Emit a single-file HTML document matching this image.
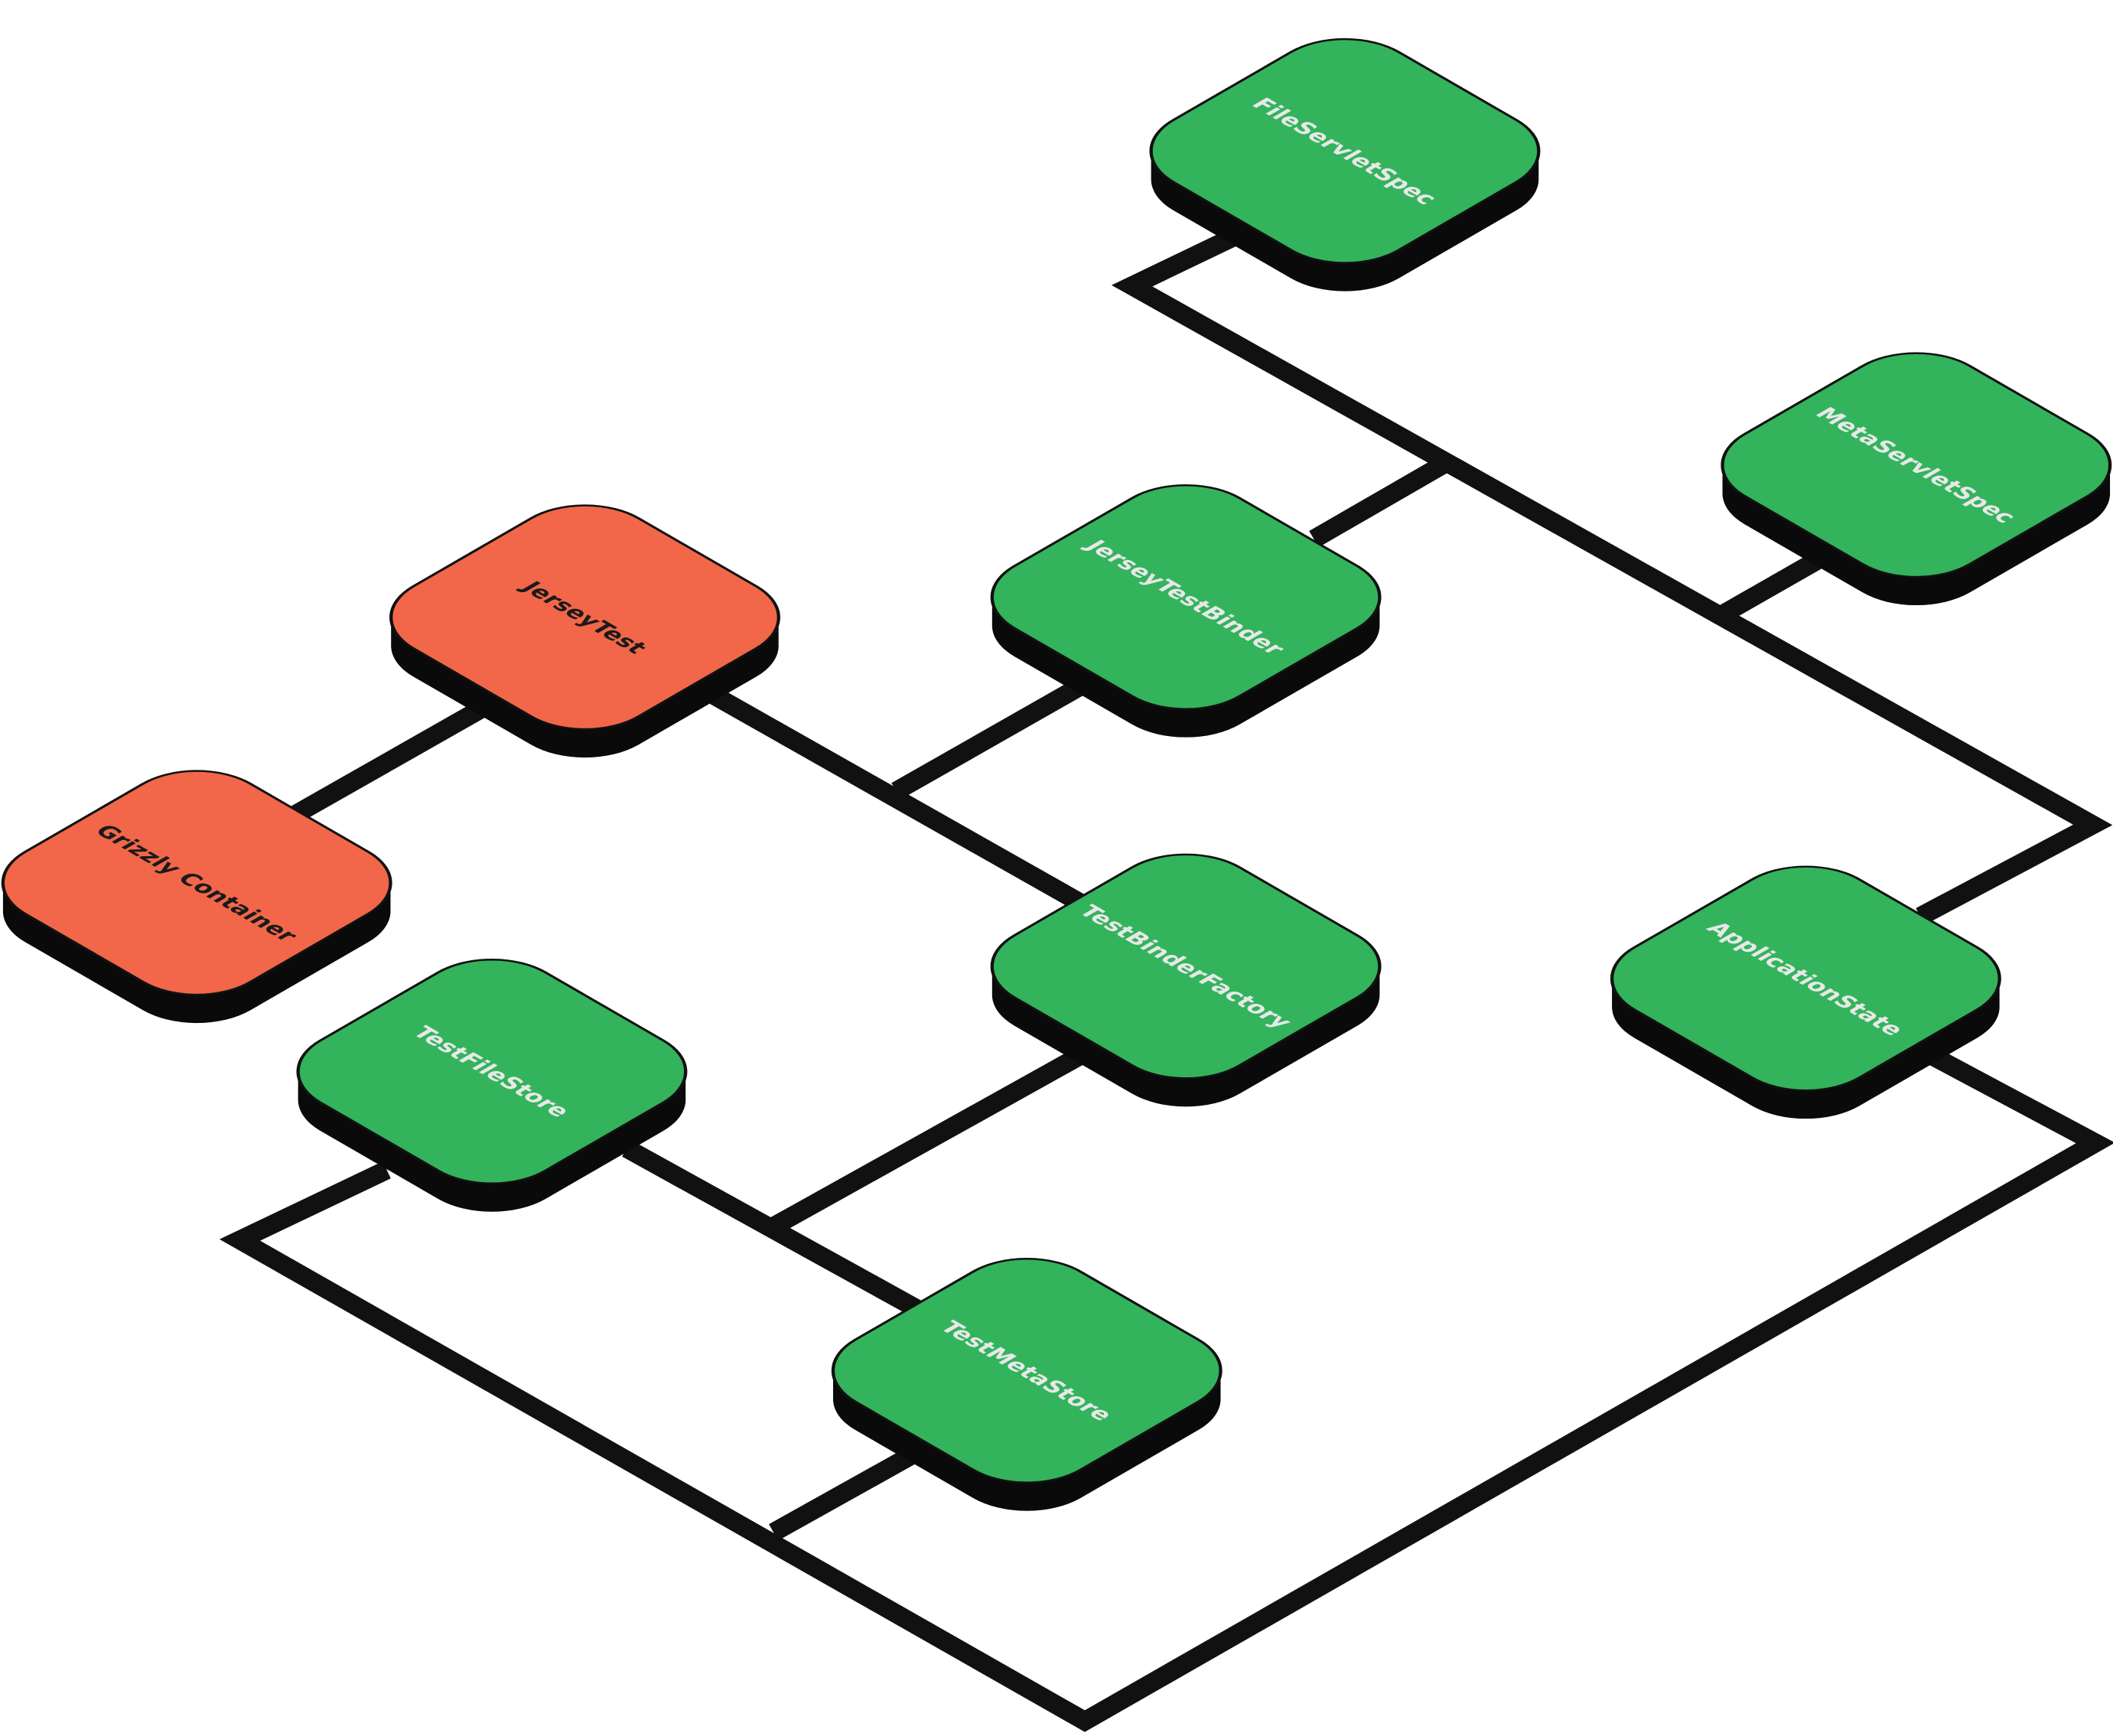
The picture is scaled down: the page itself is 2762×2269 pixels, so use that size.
<!DOCTYPE html>
<html><head><meta charset="utf-8"><style>html,body{margin:0;padding:0;background:#fff}svg{display:block}</style></head>
<body>
<svg width="2762" height="2269" viewBox="0 0 1568 1288" xmlns="http://www.w3.org/2000/svg">
<defs>
<rect id="slab" x="-96.5" y="-96.5" width="193" height="193" rx="46" ry="46"/>
<g id="ext" fill="#0a0a0a">
<use href="#slab" transform="translate(0,3) matrix(0.866,0.5,-0.866,0.5,0,0)"/>
<use href="#slab" transform="translate(0,6) matrix(0.866,0.5,-0.866,0.5,0,0)"/>
<use href="#slab" transform="translate(0,9) matrix(0.866,0.5,-0.866,0.5,0,0)"/>
<use href="#slab" transform="translate(0,12) matrix(0.866,0.5,-0.866,0.5,0,0)"/>
<use href="#slab" transform="translate(0,15) matrix(0.866,0.5,-0.866,0.5,0,0)"/>
<use href="#slab" transform="translate(0,18) matrix(0.866,0.5,-0.866,0.5,0,0)"/>
<use href="#slab" transform="translate(0,21) matrix(0.866,0.5,-0.866,0.5,0,0)"/>
</g>
</defs>
<g fill="none" stroke="#111" stroke-width="14" stroke-linejoin="miter" stroke-linecap="butt">
<polyline points="915,176 840,212 1553,612 1425,680"/>
<line x1="1072" y1="344" x2="975" y2="400"/>
<line x1="1278" y1="456" x2="1348" y2="416"/>
<line x1="530" y1="516" x2="802" y2="670"/>
<line x1="665" y1="587" x2="802" y2="509"/>
<line x1="357" y1="526" x2="218" y2="605"/>
<line x1="802" y1="783" x2="574" y2="910"/>
<line x1="465" y1="852" x2="682" y2="972"/>
<polyline points="287,868 178,920 805,1277 1555,848 1435,784"/>
<line x1="574" y1="1137" x2="676" y2="1080"/>
</g>
<g font-family="'DejaVu Sans','Liberation Sans',sans-serif" font-weight="bold" font-size="17" text-anchor="middle">
<g transform="translate(998,112)"><use href="#ext"/>
<g transform="matrix(0.866,0.5,-0.866,0.5,0,0)"><use href="#slab" fill="#33b35c" stroke="#111" stroke-width="2"/>
<text x="0" y="6" fill="#e8e8e8">FileServletSpec</text></g></g>

<g transform="translate(1422,345)"><use href="#ext"/>
<g transform="matrix(0.866,0.5,-0.866,0.5,0,0)"><use href="#slab" fill="#33b35c" stroke="#111" stroke-width="2"/>
<text x="0" y="6" fill="#e8e8e8">MetaServletSpec</text></g></g>

<g transform="translate(434,458)"><use href="#ext"/>
<g transform="matrix(0.866,0.5,-0.866,0.5,0,0)"><use href="#slab" fill="#f26749" stroke="#111" stroke-width="2"/>
<text x="0" y="6" fill="#1a1a1a">JerseyTest</text></g></g>

<g transform="translate(880,443)"><use href="#ext"/>
<g transform="matrix(0.866,0.5,-0.866,0.5,0,0)"><use href="#slab" fill="#33b35c" stroke="#111" stroke-width="2"/>
<text x="0" y="6" fill="#e8e8e8">JerseyTestBinder</text></g></g>

<g transform="translate(146,655)"><use href="#ext"/>
<g transform="matrix(0.866,0.5,-0.866,0.5,0,0)"><use href="#slab" fill="#f26749" stroke="#111" stroke-width="2"/>
<text x="0" y="6" fill="#1a1a1a">Grizzly Container</text></g></g>

<g transform="translate(880,717)"><use href="#ext"/>
<g transform="matrix(0.866,0.5,-0.866,0.5,0,0)"><use href="#slab" fill="#33b35c" stroke="#111" stroke-width="2"/>
<text x="0" y="6" fill="#e8e8e8">TestBinderFactory</text></g></g>

<g transform="translate(1340,726)"><use href="#ext"/>
<g transform="matrix(0.866,0.5,-0.866,0.5,0,0)"><use href="#slab" fill="#33b35c" stroke="#111" stroke-width="2"/>
<text x="0" y="6" fill="#e8e8e8">ApplicationState</text></g></g>

<g transform="translate(365,795)"><use href="#ext"/>
<g transform="matrix(0.866,0.5,-0.866,0.5,0,0)"><use href="#slab" fill="#33b35c" stroke="#111" stroke-width="2"/>
<text x="0" y="6" fill="#e8e8e8">TestFileStore</text></g></g>

<g transform="translate(762,1017)"><use href="#ext"/>
<g transform="matrix(0.866,0.5,-0.866,0.5,0,0)"><use href="#slab" fill="#33b35c" stroke="#111" stroke-width="2"/>
<text x="0" y="6" fill="#e8e8e8">TestMetaStore</text></g></g>
</g>
</svg>
</body></html>
